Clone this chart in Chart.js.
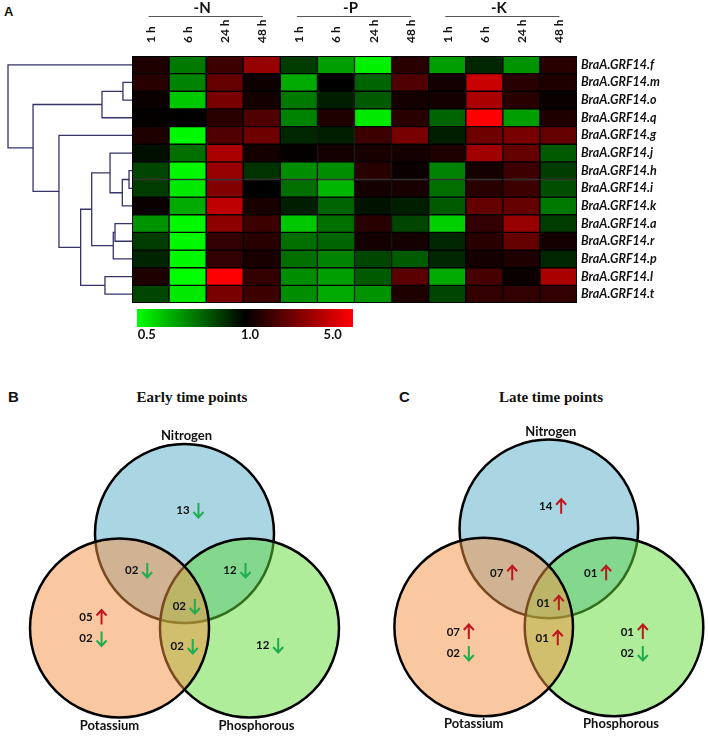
<!DOCTYPE html>
<html>
<head>
<meta charset="utf-8">
<script src="https://cdn.jsdelivr.net/npm/chart.js@4.4.0/dist/chart.umd.min.js"></script>
<style>
  body { margin: 0; background: #fff; width: 708px; height: 736px; position: relative; overflow: hidden; }
  canvas { position: absolute; }
  .tag { position: absolute; font: bold 15px "Liberation Sans", sans-serif; color: #111; line-height: 16px; }
  .title { position: absolute; width: 220px; text-align: center; font: bold 15px "Liberation Serif", serif; color: #111; line-height: 18px; }
</style>
</head>
<body>
<div class="tag" style="left:4px;top:4px;font-size:13px">A</div>
<div class="tag" style="left:8px;top:389px">B</div>
<div class="tag" style="left:399px;top:389px">C</div>
<div class="title" style="left:82px;top:388px">Early time points</div>
<div class="title" style="left:441px;top:388px">Late time points</div>

<canvas id="dendro" width="128" height="247" style="left:6px;top:56px"></canvas>
<canvas id="heat" width="588" height="345" style="left:120px;top:0px"></canvas>
<canvas id="vennB" width="354" height="366" style="left:0px;top:370px"></canvas>
<canvas id="vennC" width="354" height="366" style="left:354px;top:370px"></canvas>

<script>
// HEATMAP DATA (fold change vs control)

const genes = ["BraA.GRF14.f", "BraA.GRF14.m", "BraA.GRF14.o", "BraA.GRF14.q", "BraA.GRF14.g",
    "BraA.GRF14.j", "BraA.GRF14.h", "BraA.GRF14.i", "BraA.GRF14.k", "BraA.GRF14.a",
    "BraA.GRF14.r", "BraA.GRF14.p", "BraA.GRF14.l", "BraA.GRF14.t"];
const treatments = ["-N", "-P", "-K"];
const timePoints = ["1 h", "6 h", "24 h", "48 h"];

// one row per gene, columns 1 h / 6 h / 24 h / 48 h
const foldN = [
    [1.21, 0.72, 1.46, 2.58], [1.29, 0.70, 1.88, 1.10], [1.07, 0.58, 2.13, 1.14], [1.03, 1.00, 1.29, 1.66],
    [1.21, 0.51, 1.66, 2.00], [0.96, 0.74, 2.93, 1.14], [0.83, 0.51, 2.58, 0.87], [0.85, 0.53, 2.27, 1.00],
    [1.07, 0.63, 3.32, 1.17], [0.67, 0.51, 2.42, 1.46], [0.85, 0.51, 1.37, 1.29], [0.91, 0.51, 1.37, 1.17],
    [1.21, 0.50, 5.00, 1.37], [0.83, 0.53, 2.13, 1.46]
];
const foldP = [
    [0.85, 0.65, 0.52, 1.29], [0.63, 1.00, 0.76, 1.66], [0.72, 0.92, 0.78, 1.14], [0.70, 1.21, 0.53, 1.29],
    [0.90, 0.92, 1.46, 2.13], [1.03, 1.14, 1.17, 1.14], [0.68, 0.68, 1.29, 1.07], [0.74, 0.61, 1.14, 1.17],
    [0.92, 0.76, 0.95, 0.92], [0.58, 0.74, 1.29, 0.83], [0.74, 0.76, 1.14, 1.14], [0.74, 0.70, 0.83, 0.78],
    [0.68, 0.65, 0.78, 1.77], [0.68, 0.63, 0.67, 1.21]
];
const foldK = [
    [0.65, 0.90, 0.67, 1.29], [1.14, 3.54, 1.29, 1.21], [1.14, 2.93, 1.29, 1.07], [0.76, 5.00, 0.65, 1.21],
    [0.92, 2.00, 2.13, 1.88], [1.21, 2.75, 1.88, 0.78], [0.70, 1.14, 1.46, 0.85], [0.74, 1.29, 1.46, 0.81],
    [0.78, 1.88, 1.88, 0.72], [0.57, 1.37, 2.58, 0.85], [0.90, 1.29, 1.88, 1.14], [0.90, 1.14, 1.21, 0.90],
    [0.63, 1.56, 1.07, 2.93], [0.83, 1.37, 1.37, 1.37]
];
const keyTicks = [0.5, 1.0, 5.0];

// hierarchical clustering: [child a, child b, distance]; leaves 0..13, new nodes 14..
const merges = [
    [1, 2, 0.073], [14, 3, 0.242], [6, 7, 0.024], [16, 8, 0.078], [5, 17, 0.177],
    [9, 10, 0.137], [19, 11, 0.151], [18, 20, 0.325], [12, 13, 0.218], [21, 22, 0.414],
    [4, 23, 0.589], [15, 24, 0.798], [0, 25, 1.0]
];

// VENN DATA

const vennSets = ["Nitrogen", "Phosphorous", "Potassium"];
const vennRegions = ["N", "N+K", "N+P", "N+P+K", "K", "K+P", "P"];
const earlyUp = [0, 0, 0, 0, 5, 0, 0];
const earlyDown = [13, 2, 12, 2, 2, 2, 12];
const lateUp = [14, 7, 1, 1, 7, 1, 1];
const lateDown = [0, 0, 0, 0, 2, 0, 2];

Chart.defaults.font.family = "Lato";

// green (0.5) -> black (1.0) -> red (5.0)
function foldColor(v) {
    if (v >= 1) {
        const t = Math.min(1, Math.log(v) / Math.log(keyTicks[2]));
        return "rgb(" + Math.round(255 * t) + ",0,0)";
    }
    const t = Math.min(1, Math.log(v) / Math.log(keyTicks[0]));
    return "rgb(0," + Math.round(255 * t) + ",0)";
}

// DENDROGRAM

const nodeY = genes.map((g, i) => i + 0.5);
const nodeH = genes.map(() => 0);
const dendroSets = merges.map(([a, b, h]) => {
    const seg = [
        { x: nodeH[a], y: nodeY[a] }, { x: h, y: nodeY[a] },
        { x: h, y: nodeY[b] }, { x: nodeH[b], y: nodeY[b] }
    ];
    nodeY.push((nodeY[a] + nodeY[b]) / 2);
    nodeH.push(h);
    return {
        data: seg,
        showLine: true,
        borderColor: "#34346a",
        borderWidth: 1.3,
        pointRadius: 0,
        clip: false,
    };
});

new Chart(document.getElementById("dendro"), {
    type: "scatter",
    data: { datasets: dendroSets },
    options: {
        responsive: false,
        animation: false,
        events: [],
        layout: { padding: { left: 2, right: 2, top: 0, bottom: 0 } },
        plugins: { legend: { display: false }, tooltip: { enabled: false } },
        scales: {
            x: { type: "linear", display: false, min: 0, max: 1, reverse: true },
            y: { type: "linear", display: false, min: 0, max: genes.length, reverse: true },
        },
    },
});

// HEATMAP

const columnLabels = treatments.flatMap(() => timePoints);

const heatDecor = {
    id: "heatDecor",
    afterDraw(chart) {
        const { ctx, chartArea: a, scales: { x } } = chart;
        ctx.save();
        ctx.strokeStyle = "#000";
        ctx.lineWidth = 1;
        ctx.strokeRect(a.left + 0.5, a.top + 0.5, a.width - 1, a.height - 1);

        // treatment headings
        treatments.forEach((t, g) => {
            const x0 = x.getPixelForValue(g * 4);
            const x1 = x.getPixelForValue(g * 4 + 3);
            ctx.strokeStyle = "#555";
            ctx.beginPath();
            ctx.moveTo(x0 - 2, 16.5);
            ctx.lineTo(x1 + 1, 16.5);
            ctx.stroke();
            ctx.fillStyle = "#111";
            ctx.font = "bold 15px Lato";
            ctx.textAlign = "center";
            ctx.textBaseline = "alphabetic";
            ctx.fillText(t, (x0 + x1) / 2 - 4, 13);
        });

        // colour key
        const kx = a.left + 5, ky = a.bottom + 6, kw = 216, kh = 18;
        const grad = ctx.createLinearGradient(kx, 0, kx + kw, 0);
        grad.addColorStop(0, foldColor(keyTicks[0]));
        grad.addColorStop(0.5, foldColor(keyTicks[1]));
        grad.addColorStop(1, foldColor(keyTicks[2]));
        ctx.fillStyle = grad;
        ctx.fillRect(kx, ky, kw, kh);
        const keyPos = [0.045, 0.523, 0.906];
        ctx.fillStyle = "#111";
        ctx.font = "bold 13px Lato";
        ctx.textBaseline = "middle";
        keyTicks.forEach((k, i) => {
            ctx.fillText(k.toFixed(1), kx + kw * keyPos[i], ky + kh + 8);
        });
        ctx.restore();
    }
};

new Chart(document.getElementById("heat"), {
    type: "bar",
    data: {
        labels: columnLabels,
        datasets: genes.map((g, i) => ({
            label: g,
            data: columnLabels.map(() => 1),
            backgroundColor: [...foldN[i], ...foldP[i], ...foldK[i]].map(foldColor),
            borderColor: "#000",
            borderWidth: 1,
            borderSkipped: false,
            barPercentage: 1,
            categoryPercentage: 1,
        })),
    },
    options: {
        responsive: false,
        animation: false,
        events: [],
        layout: { padding: { left: 12, right: 0, top: 0, bottom: 42 } },
        plugins: { legend: { display: false }, tooltip: { enabled: false } },
        scales: {
            x: {
                position: "top",
                stacked: true,
                grid: { display: false, drawTicks: false },
                border: { display: false },
                ticks: {
                    minRotation: 90,
                    maxRotation: 90,
                    autoSkip: false,
                    padding: 13,
                    labelOffset: 15,
                    color: "#111",
                    font: { weight: "bold", size: 12 },
                },
                afterFit: (s) => { s.height = 56; },
            },
            y: {
                position: "right",
                stacked: true,
                reverse: true,
                min: 0,
                max: genes.length,
                grid: { display: false, drawTicks: false },
                border: { display: false },
                afterBuildTicks: (s) => { s.ticks = genes.map((g, i) => ({ value: i + 0.5 })); },
                ticks: {
                    callback: (v, i) => genes[i],
                    padding: 4,
                    color: "#111",
                    font: { weight: "bold", style: "italic", size: 12.5 },
                },
                afterFit: (s) => { s.width = 131; },
            },
        },
    },
    plugins: [heatDecor],
});

// VENN DIAGRAMS

const vennFill = ["rgba(85,173,201,0.5)", "rgba(95,219,55,0.5)", "rgba(245,145,65,0.5)"];

function drawArrow(ctx, x, y, dir) {
    const s = dir === "up" ? -1 : 1;
    ctx.strokeStyle = dir === "up" ? "#c0161c" : "#1fad4f";
    ctx.lineWidth = 2;
    ctx.beginPath();
    ctx.moveTo(x, y - 7 * s);
    ctx.lineTo(x, y + 7 * s);
    ctx.moveTo(x - 5, y + 2 * s);
    ctx.lineTo(x, y + 7.5 * s);
    ctx.lineTo(x + 5, y + 2 * s);
    ctx.stroke();
}

function unitPx(chart) {
    const x = chart.scales.x;
    return x.getPixelForValue(1) - x.getPixelForValue(0);
}

// view: pixel origin and radius; circles and anchors in circle-radius units
function makeVenn(id, view, up, down) {
    const W = 354, H = 366;
    const labels = {
        id: "vennLabels",
        afterDatasetsDraw(chart) {
            const { ctx, scales: { x, y } } = chart;
            const u = unitPx(chart);
            ctx.save();
            ctx.fillStyle = "#111";
            ctx.textAlign = "center";
            ctx.textBaseline = "middle";
            ctx.font = "bold 13px Lato";
            const c = view.circles.map(([cx, cy]) => [x.getPixelForValue(cx), y.getPixelForValue(cy)]);
            ctx.fillText(vennSets[0], c[0][0] + 2, c[0][1] - u - 7);
            ctx.fillText(vennSets[1], c[1][0] + 7, c[1][1] + u + 7);
            ctx.fillText(vennSets[2], c[2][0] - 10, c[2][1] + u + 7);

            ctx.font = "bold 11.5px Lato";
            vennRegions.forEach((r, j) => {
                const items = [];
                if (up[j]) items.push([up[j], "up"]);
                if (down[j]) items.push([down[j], "down"]);
                const ax = x.getPixelForValue(view.anchors[j][0]);
                const ay = y.getPixelForValue(view.anchors[j][1]);
                items.forEach(([n, dir], k) => {
                    const ty = ay + (k - (items.length - 1) / 2) * 21;
                    ctx.fillStyle = "#111";
                    ctx.fillText(String(n).padStart(2, "0"), ax, ty);
                    drawArrow(ctx, ax + 15.5, ty, dir);
                });
            });
            ctx.restore();
        }
    };

    return new Chart(document.getElementById(id), {
        type: "scatter",
        data: {
            datasets: [{
                data: view.circles.map(([cx, cy]) => ({ x: cx, y: cy })),
                pointRadius: (ctx) => unitPx(ctx.chart) - 1,
                pointHoverRadius: (ctx) => unitPx(ctx.chart) - 1,
                pointBackgroundColor: vennFill,
                pointBorderColor: "#000",
                pointBorderWidth: 2.5,
                clip: false,
            }],
        },
        options: {
            responsive: false,
            animation: false,
            events: [],
            layout: { padding: 0 },
            plugins: { legend: { display: false }, tooltip: { enabled: false } },
            scales: {
                x: { type: "linear", display: false, min: -view.cx / view.unit, max: (W - view.cx) / view.unit },
                y: { type: "linear", display: false, min: -(H - view.cy) / view.unit, max: view.cy / view.unit },
            },
        },
        plugins: [labels],
    });
}

makeVenn("vennB", {
    cx: 184.5, cy: 258, unit: 90.5,
    circles: [[0, 1.044], [0.718, 0], [-0.718, 0]],
    anchors: [[-0.017, 1.304], [-0.583, 0.641], [0.503, 0.641], [-0.057, 0.243], [-1.088, 0.0], [-0.08, -0.199], [0.864, -0.188]],
}, earlyUp, earlyDown);

makeVenn("vennC", {
    cx: 194.85, cy: 257, unit: 90.3,
    circles: [[0, 1.087], [0.7215, 0], [-0.7215, 0]],
    anchors: [[-0.035, 1.332], [-0.577, 0.595], [0.463, 0.595], [-0.061, 0.262], [-1.058, -0.172], [-0.073, -0.125], [0.869, -0.172]],
}, lateUp, lateDown);
</script>
</body>
</html>
